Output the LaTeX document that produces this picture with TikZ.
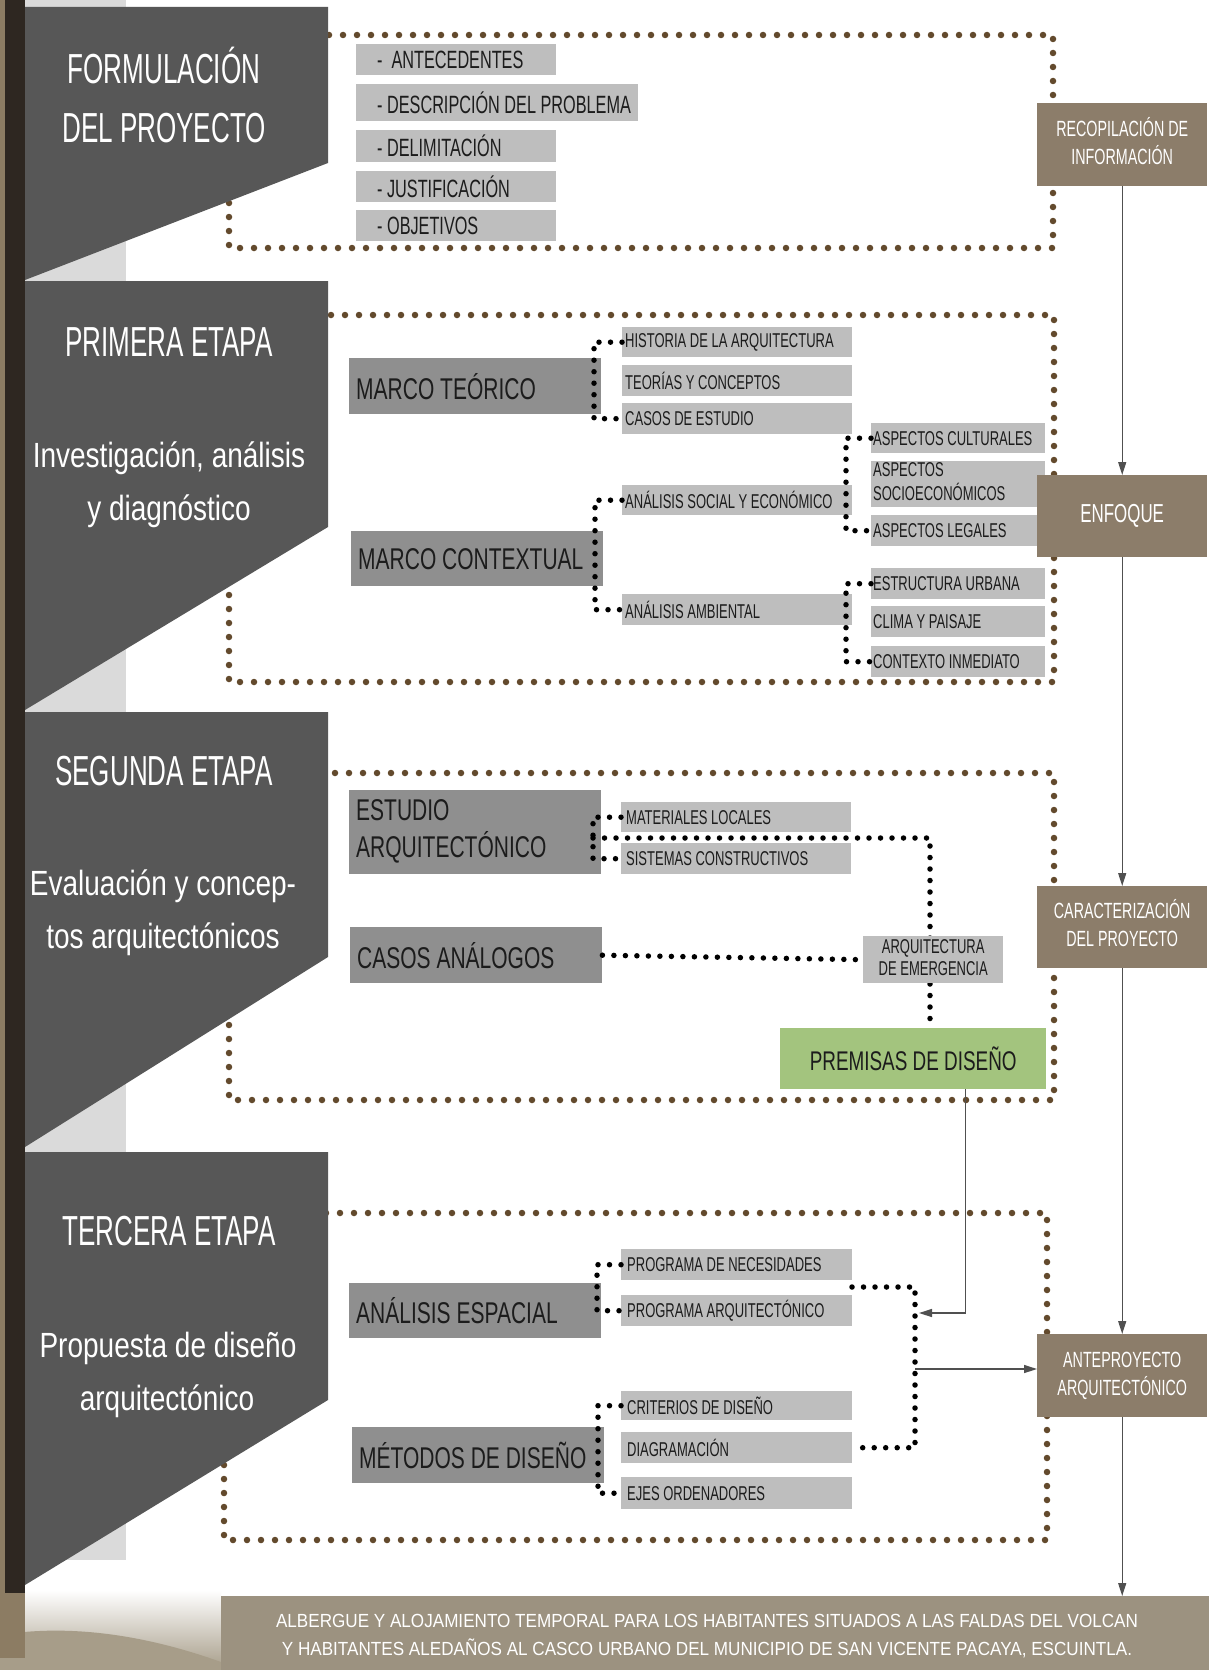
\documentclass[tikz,border=0pt]{standalone}
\usepackage{fontspec}
\setmainfont{Liberation Sans}
\newfontfamily\fTitle{Liberation Sans}[FakeStretch=0.62]
\newfontfamily\fSub{Liberation Sans}[FakeStretch=0.8]
\newfontfamily\fLab{Liberation Sans}[FakeStretch=0.7]
\newfontfamily\fItem{Liberation Sans}[FakeStretch=0.65]
\newfontfamily\fBot{Liberation Sans}[FakeStretch=0.9]
\usetikzlibrary{arrows.meta}
\newcommand\lbx[2]{\makebox[#1][l]{#2}}
\newcommand\ltab[1]{\begin{tabular}{@{}l@{}}#1\end{tabular}}
\definecolor{panel}{HTML}{575757}
\definecolor{tanstrip}{HTML}{8C7C63}
\definecolor{darkstrip}{HTML}{2E2721}
\definecolor{lightstrip}{HTML}{DADADA}
\definecolor{itemgray}{HTML}{BEBEBE}
\definecolor{labgray}{HTML}{8F8F8F}
\definecolor{boxbrown}{HTML}{8C7D6A}
\definecolor{premgreen}{HTML}{A3C47E}
\definecolor{dotbrown}{HTML}{634A2D}
\definecolor{arrowgray}{HTML}{505050}
\definecolor{txtdark}{HTML}{1C1C1C}
\definecolor{botbrown}{HTML}{9C9280}
\definecolor{photo}{HTML}{A79D89}
\begin{document}
\begin{tikzpicture}[x=1pt,y=-1pt,
  brdots/.style={draw=dotbrown, line width=6.5pt, line cap=round, dash pattern=on 0pt off 14pt},
  bkdots/.style={draw=black, line width=5.5pt, line cap=round, dash pattern=on 0pt off 11.5pt},
  arr/.style={draw=arrowgray, line width=1.3pt, -{Triangle[length=13pt,width=8pt]}},
  ttl/.style={anchor=base, text=white, inner sep=0pt, font=\fTitle\fontsize{42}{50}\selectfont},
  sub/.style={anchor=base, text=white, inner sep=0pt, font=\fSub\fontsize{35}{42}\selectfont},
  boxbase/.style={inner ysep=0pt, anchor=north west},
  itm/.style={boxbase, fill=itemgray, text=txtdark, inner xsep=3pt, font=\fItem\fontsize{20}{22}\selectfont, minimum width=230pt, minimum height=30pt},
  fitm/.style={boxbase, fill=itemgray, text=txtdark, inner xsep=4pt, font=\fItem\fontsize{25}{27}\selectfont, minimum height=31pt},
  asp/.style={itm, minimum width=174pt, inner xsep=2pt},
  lab/.style={boxbase, fill=labgray, text=txtdark, inner xsep=7pt, font=\fLab\fontsize{30}{35}\selectfont, minimum width=252pt, minimum height=56pt},
  bro/.style={fill=boxbrown, text=white, inner sep=0pt, anchor=north west, align=center, font=\fItem\fontsize{22}{28}\selectfont, minimum width=170pt, minimum height=83pt},
  bt/.style={anchor=base, text=white, inner sep=0pt, font=\fBot\fontsize{19}{24}\selectfont}
]
\useasboundingbox (0,0) rectangle (1209,1670);
\fill[white] (0,0) rectangle (1209,1670);
% left decoration
\fill[lightstrip] (25,0) rectangle (126,1560);
\shade[top color=white, bottom color=photo] (25,1590) rectangle (221,1670);
\fill[photo] (0,1635) .. controls (80,1622) and (160,1640) .. (221,1662) -- (221,1670) -- (0,1670) -- cycle;
\fill[tanstrip] (0,0) rectangle (5,1658);
\fill[tanstrip] (0,1593) rectangle (25,1658);
\fill[darkstrip] (5,0) rectangle (25,1593);

% dotted frames
\draw[brdots] (229,35) rectangle (1053,248);
\draw[brdots] (229,315) rectangle (1054,682);
\draw[brdots] (229,773) rectangle (1054,1100);
\draw[brdots] (224,1213) rectangle (1047,1540);

% stage panels
\fill[panel] (25,7) -- (328,7) -- (328,163) -- (25,280) -- cycle;
\fill[panel] (25,281) -- (328,281) -- (328,527) -- (25,710) -- cycle;
\fill[panel] (25,712) -- (328,712) -- (328,957) -- (25,1147) -- cycle;
\fill[panel] (25,1152) -- (328,1152) -- (328,1400) -- (25,1585) -- cycle;

\node[ttl] (t1a) at (164,84) {FORMULACIÓN};
\node[ttl] (t1b) at (164,142) {DEL PROYECTO};
\node[ttl] (t2a) at (169,356) {PRIMERA ETAPA};
\node[sub] (t2b) at (169,467) {Investigación, análisis};
\node[sub] (t2c) at (169,520) {y diagnóstico};
\node[ttl] (t3a) at (164,785) {SEGUNDA ETAPA};
\node[sub] (t3b) at (163,895) {Evaluación y concep-};
\node[sub] (t3c) at (163,948) {tos arquitectónicos};
\node[ttl] (t4a) at (169,1245) {TERCERA ETAPA};
\node[sub] (t4b) at (168,1357) {Propuesta de diseño};
\node[sub] (t4c) at (167,1410) {arquitectónico};

% formulacion items
\node[fitm, minimum width=200pt] (f1) at (356,44) {\lbx{192pt}{\hspace*{17pt}-\hspace{9pt}ANTECEDENTES}};
\node[fitm, minimum width=282pt, minimum height=37pt] (f2) at (356,84) {\lbx{274pt}{\hspace*{17pt}- DESCRIPCIÓN DEL PROBLEMA}};
\node[fitm, minimum width=200pt, minimum height=32pt] (f3) at (356,130) {\lbx{192pt}{\hspace*{17pt}- DELIMITACIÓN}};
\node[fitm, minimum width=200pt] (f4) at (356,171) {\lbx{192pt}{\hspace*{17pt}- JUSTIFICACIÓN}};
\node[fitm, minimum width=200pt] (f5) at (356,210) {\lbx{192pt}{\hspace*{17pt}- OBJETIVOS}};

% primera etapa
\node[lab] (mt) at (349,358) {\lbx{238pt}{MARCO TEÓRICO}};
\node[itm] (h1) at (622,327) {\lbx{224pt}{HISTORIA DE LA ARQUITECTURA}};
\node[itm, minimum height=31pt] (h2) at (622,365) {\lbx{224pt}{TEORÍAS Y CONCEPTOS}};
\node[itm, minimum height=31pt] (h3) at (622,403) {\lbx{224pt}{CASOS DE ESTUDIO}};
\node[lab, minimum height=55pt] (mc) at (351,531) {\lbx{238pt}{MARCO CONTEXTUAL}};
\node[itm] (as) at (622,485) {\lbx{224pt}{ANÁLISIS SOCIAL Y ECONÓMICO}};
\node[itm, minimum height=31pt] (aa) at (622,594) {\lbx{224pt}{ANÁLISIS AMBIENTAL}};
\node[asp] (a1) at (871,423) {\lbx{170pt}{ASPECTOS CULTURALES}};
\node[asp, minimum height=45pt] (a2) at (871,461) {\lbx{170pt}{\ltab{ASPECTOS\\SOCIOECONÓMICOS}}};
\node[asp, minimum height=31pt] (a3) at (871,515) {\lbx{170pt}{ASPECTOS LEGALES}};
\node[asp, minimum height=31pt] (e1) at (871,568) {\lbx{170pt}{ESTRUCTURA URBANA}};
\node[asp, minimum height=31pt] (e2) at (871,606) {\lbx{170pt}{CLIMA Y PAISAJE}};
\node[asp, minimum height=31pt] (e3) at (871,646) {\lbx{170pt}{CONTEXTO INMEDIATO}};

% segunda etapa
\node[lab, minimum height=84pt] (ea) at (349,790) {\lbx{238pt}{\ltab{ESTUDIO\\ARQUITECTÓNICO}}};
\node[itm, inner xsep=5pt] (m1) at (621,802) {\lbx{220pt}{MATERIALES LOCALES}};
\node[itm, inner xsep=5pt, minimum height=31pt] (m2) at (621,843) {\lbx{220pt}{SISTEMAS CONSTRUCTIVOS}};
\node[lab] (ca) at (350,927) {\lbx{238pt}{CASOS ANÁLOGOS}};
\node[fill=premgreen, text=txtdark, anchor=north west, inner sep=0pt, minimum width=266pt, minimum height=61pt, font=\fLab\fontsize{27}{30}\selectfont] (pd) at (780,1028) {PREMISAS DE DISEÑO};
\coordinate (eabar) at (593,838);
\coordinate (eacorner) at (930,838);
\draw[bkdots] (eabar) -- (eacorner) -- (eacorner |- pd.north);
\node[fill=itemgray, text=txtdark, anchor=north west, inner sep=0pt, minimum width=140pt, minimum height=47pt, font=\fItem\fontsize{20}{22}\selectfont] (ae) at (863,936) {\begin{tabular}{@{}c@{}}ARQUITECTURA\\DE EMERGENCIA\end{tabular}};

% tercera etapa
\node[lab, minimum height=55pt] (es) at (349,1283) {\lbx{238pt}{ANÁLISIS ESPACIAL}};
\node[itm, inner xsep=6pt, minimum height=31pt] (p1) at (621,1249) {\lbx{219pt}{PROGRAMA DE NECESIDADES}};
\node[itm, inner xsep=6pt, minimum height=31pt] (p2) at (621,1295) {\lbx{219pt}{PROGRAMA ARQUITECTÓNICO}};
\node[lab] (md) at (352,1427) {\lbx{238pt}{MÉTODOS DE DISEÑO}};
\node[itm, inner xsep=6pt, minimum height=29pt] (c1) at (621,1391) {\lbx{219pt}{CRITERIOS DE DISEÑO}};
\node[itm, inner xsep=6pt, minimum height=31pt] (c2) at (621,1432) {\lbx{219pt}{DIAGRAMACIÓN}};
\node[itm, inner xsep=6pt, minimum height=32pt] (c3) at (621,1477) {\lbx{219pt}{EJES ORDENADORES}};

% right column
\node[bro] (r1) at (1037,103) {\begin{tabular}{@{}c@{}}RECOPILACIÓN DE\\INFORMACIÓN\end{tabular}};
\node[bro, minimum height=82pt, font=\fItem\fontsize{26}{30}\selectfont] (r2) at (1037,475) {ENFOQUE};
\node[bro, minimum height=82pt] (r3) at (1037,886) {\begin{tabular}{@{}c@{}}CARACTERIZACIÓN\\DEL PROYECTO\end{tabular}};
\node[bro] (r4) at (1037,1334) {\begin{tabular}{@{}c@{}}ANTEPROYECTO\\ARQUITECTÓNICO\end{tabular}};

% bottom box
\node[fill=botbrown, anchor=north west, inner sep=0pt, minimum width=988pt, minimum height=74pt] (bot) at (221,1596) {};
\node[bt] (bt1) at (707,1627) {ALBERGUE Y ALOJAMIENTO TEMPORAL PARA LOS HABITANTES SITUADOS A LAS FALDAS DEL VOLCAN};
\node[bt] (bt2) at (707,1655) {Y HABITANTES ALEDAÑOS AL CASCO URBANO DEL MUNICIPIO DE SAN VICENTE PACAYA, ESCUINTLA.};

% black dotted connectors
\coordinate (mtbar) at (594,380);
\draw[bkdots] (h1.west) -| (mtbar) |- (h3.west);
\coordinate (mcbar) at (595,550);
\draw[bkdots] (as.west) -| (mcbar) |- (aa.west);
\coordinate (asbar) at (846,490);
\draw[bkdots] (a1.west) -| (asbar) |- (a3.west);
\coordinate (aabar) at (846,620);
\draw[bkdots] (e1.west) -| (aabar) |- (e3.west);
\draw[bkdots] (m1.west) -| (eabar) |- (m2.west);
\draw[bkdots] (ca.east) -- (ae.west);
\coordinate (aebar) at (597,1290);
\draw[bkdots] (p1.west) -| (aebar) |- (p2.west);
\coordinate (mdbar) at (598,1450);
\draw[bkdots] (c1.west) -| (mdbar) |- (c3.west);
\coordinate (rbtop) at (852,1287);
\coordinate (rb) at (915,1369);
\draw[bkdots] (rbtop) -| (rb) |- (c2.east);

% arrows
\draw[arr] (r1.south) -- (r2.north);
\draw[arr] (r2.south) -- (r3.north);
\draw[arr] (r3.south) -- (r4.north);
\draw[arr] (r4.south) -- (r4.south |- bot.north);
\coordinate (rbin) at (919,1313);
\draw[arr] ([xshift=52pt]pd.south) |- (rbin);
\draw[arr] (rb) -- (rb -| r4.west);
\end{tikzpicture}
\end{document}
